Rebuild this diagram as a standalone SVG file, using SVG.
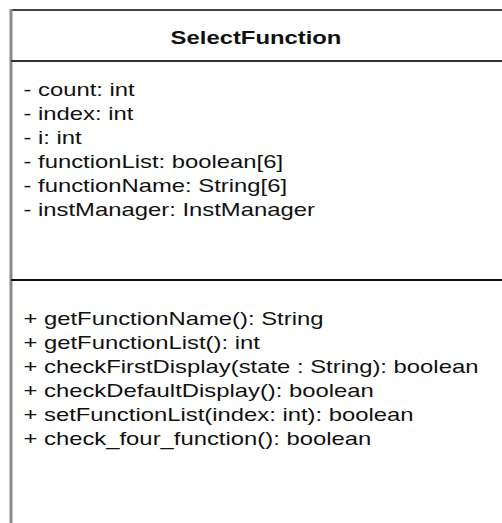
<svg xmlns="http://www.w3.org/2000/svg" width="502" height="523" viewBox="0 0 502 523">
<style>
.t{font-family:"Liberation Sans",Arial,sans-serif;font-size:19px;fill:#111}
.b{font-weight:bold;text-anchor:middle}
</style>
<rect width="502" height="523" fill="#fff"/>
<g id="SelectFunction">
<line x1="11" y1="10" x2="502" y2="10" stroke="#444" stroke-width="2"/>
<line x1="11" y1="9" x2="11" y2="523" stroke="#8a8a8a" stroke-width="3"/>
<line x1="11" y1="61" x2="502" y2="61" stroke="#333" stroke-width="2"/>
<line x1="11" y1="280" x2="502" y2="280" stroke="#111" stroke-width="2"/>
<g transform="scale(1.255 1)">
<text class="t b" x="204" y="44">SelectFunction</text>
<text class="t" x="18.7" y="96">- count: int</text>
<text class="t" x="18.7" y="120">- index: int</text>
<text class="t" x="18.7" y="144">- i: int</text>
<text class="t" x="18.7" y="168">- functionList: boolean[6]</text>
<text class="t" x="18.7" y="192">- functionName: String[6]</text>
<text class="t" x="18.7" y="216">- instManager: InstManager</text>
<text class="t" x="18.7" y="325">+ getFunctionName(): String</text>
<text class="t" x="18.7" y="349">+ getFunctionList(): int</text>
<text class="t" x="18.7" y="373">+ checkFirstDisplay(state : String): boolean</text>
<text class="t" x="18.7" y="397">+ checkDefaultDisplay(): boolean</text>
<text class="t" x="18.7" y="421">+ setFunctionList(index: int): boolean</text>
<text class="t" x="18.7" y="445">+ check_four_function(): boolean</text>
</g>
</g>
<g id="connectors"/>
</svg>
